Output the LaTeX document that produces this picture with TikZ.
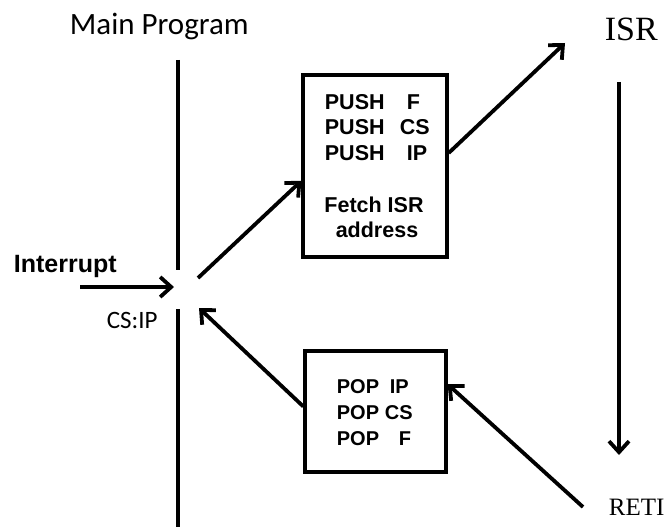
\documentclass[tikz,border=0pt]{standalone}
\usepackage{fontspec}
\setmainfont{Liberation Sans}
\newfontfamily\calib{Carlito}
\newfontfamily\tms{Liberation Serif}
\usetikzlibrary{arrows.meta,calc}
\begin{document}
\begin{tikzpicture}[x=1pt,y=-1pt,
  line width=3.8pt,
  arr/.style={-{Straight Barb[length=11pt,width=20pt,line width=3.8pt]}},
  box/.style={draw, line width=3.3pt, rectangle, inner sep=0pt},
  lbl/.style={anchor=base west, inner sep=0pt},
  clbl/.style={anchor=base, inner sep=0pt},
  boxtxt/.style={font=\bfseries\fontsize{21.5}{25}\selectfont},
  poptxt/.style={font=\bfseries\fontsize{20}{24}\selectfont},
]
\useasboundingbox[fill=white] (0,0) rectangle (667,527);

% labels
\node[lbl, font=\calib\fontsize{31}{36}\selectfont] (main) at (68,35) {Main Program};
\node[lbl, font=\tms\fontsize{34}{40}\selectfont] (isr) at (603,41) {ISR};
\node[lbl, font=\tms\fontsize{25}{30}\selectfont] (reti) at (607,515) {RETI};
\node[lbl, font=\bfseries\fontsize{25}{30}\selectfont] (intr) at (12,272) {Interrupt};
\node[lbl, font=\calib\fontsize{25}{30}\selectfont] (csip) at (105,328) {CS:IP};

% boxes
\node[box, minimum width=144pt, minimum height=182pt] (push) at (375,166) {};
\node[box, minimum width=141pt, minimum height=121pt] (pop) at (375.5,411.5) {};

% box texts
\node[lbl, boxtxt] (p1) at (323,110) {\makebox[82pt][l]{PUSH}F};
\node[lbl, boxtxt] (p2) at (323,135) {\makebox[75pt][l]{PUSH}CS};
\node[lbl, boxtxt] (p3) at (323,160) {\makebox[82pt][l]{PUSH}IP};
\node[clbl, boxtxt] (f1) at (374,212) {Fetch ISR};
\node[clbl, boxtxt] (f2) at (377,237) {address};

\node[lbl, poptxt] (q1) at (335,393) {\makebox[53pt][l]{POP}IP};
\node[lbl, poptxt] (q2) at (335,419) {\makebox[48pt][l]{POP}CS};
\node[lbl, poptxt] (q3) at (335,445) {\makebox[62pt][l]{POP}F};

% main program line
\coordinate (mtop) at (178,60);
\coordinate (mgapT) at (178,270);
\coordinate (mgapB) at (178,309);
\coordinate (mbot) at (178,530);
\draw (mtop) -- (mgapT);
\draw (mgapB) -- (mbot);

% connectors
\coordinate (intrS) at (80,287);
\coordinate (intrE) at (174,287);
\draw[arr] (intrS) -- (intrE);

\coordinate (outS) at (198,278);
\draw[arr] (outS) -- ($(push.north west)!0.58!(push.south west)$);

\coordinate (isrin) at (565,43);
\draw[arr] ($(push.north east)!0.43!(push.south east)$) -- (isrin);

\coordinate (isrtop) at (619,82);
\coordinate (isrbot) at (619,455);
\draw[arr] (isrtop) -- (isrbot);

\coordinate (retiS) at (583,507);
\draw[arr] (retiS) -- ($(pop.north east)!0.28!(pop.south east)$);

\coordinate (backE) at (199,308);
\draw[arr] ($(pop.north west)!0.46!(pop.south west)$) -- (backE);
\end{tikzpicture}
\end{document}
